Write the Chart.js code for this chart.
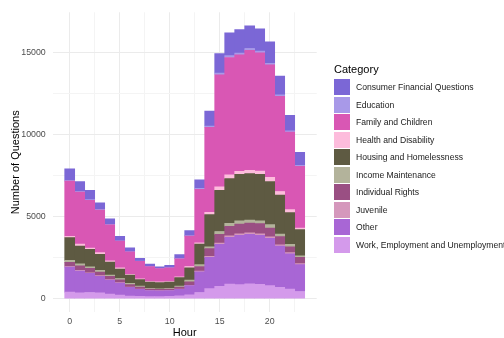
<!DOCTYPE html>
<html>
<head>
<meta charset="utf-8">
<script src="https://cdn.jsdelivr.net/npm/chart.js@4.4.1/dist/chart.umd.min.js"></script>
<style>
  html, body { margin: 0; padding: 0; background: #fff; }
  #wrap { position: relative; width: 504px; height: 338px; font-family: "Liberation Sans", Arial, sans-serif; }
  #chart { position: absolute; left: 0; top: 0; }
  #legend { position: absolute; left: 334px; top: 61px; }
  #legend .title { height: 17.5px; line-height: 16px; font-size: 11px; color: #000; }
  #legend .item { height: 17.5px; display: flex; align-items: center; font-size: 8.6px; color: #1a1a1a; white-space: nowrap; }
  #legend .sw { width: 16px; height: 16px; margin-right: 6px; flex: none; }
</style>
</head>
<body>
<div id="wrap">
  <canvas id="chart" width="504" height="338"></canvas>
  <div id="legend"></div>
</div>
<script>
/* =========================
   Data
========================= */

const hours = [0,1,2,3,4,5,6,7,8,9,10,11,12,13,14,15,16,17,18,19,20,21,22,23];

const categories = [
  "Consumer Financial Questions",
  "Education",
  "Family and Children",
  "Health and Disability",
  "Housing and Homelessness",
  "Income Maintenance",
  "Individual Rights",
  "Juvenile",
  "Other",
  "Work, Employment and Unemployment"
];

const consumerFinancial = [710,610,575,405,340,265,235,165,145,85,140,240,310,520,910,1190,1390,1430,1375,1350,1300,1140,940,790];
const education         = [40,40,35,35,30,25,20,15,15,15,15,20,30,50,80,100,110,110,110,110,100,90,80,60];
const familyChildren    = [3355,3160,2910,2585,2180,1625,1365,1065,905,810,830,1105,1855,3260,5175,6830,7150,7095,7310,7195,6840,5790,4725,3770];
const healthDisability  = [80,120,80,105,80,75,40,40,40,40,40,40,75,80,135,200,220,175,195,195,260,220,175,80];
const housingHomeless   = [1385,1085,1060,980,790,575,510,395,380,380,380,515,755,1245,1960,2510,2725,2830,2830,2830,2625,2370,1940,1600];
const incomeMaintenance = [120,115,100,100,75,80,80,60,35,35,35,60,95,120,115,180,180,195,175,175,215,155,140,100];
const individualRights  = [255,280,265,220,210,170,140,120,80,80,80,120,215,275,475,530,580,600,605,620,525,495,360,380];
const juvenile          = [40,40,35,35,30,25,20,15,15,15,15,15,25,40,60,80,90,90,90,90,90,80,70,55];
const other             = [1520,1325,1165,1010,850,735,530,435,375,355,355,395,555,1265,1900,2550,2845,3005,3000,2985,2885,2510,2140,1640];
const workEmployment    = [395,355,375,355,275,215,160,140,120,120,140,180,235,375,610,750,890,850,910,870,790,690,590,435];

// grid positions; labelled ones are the majors
const xGrid   = [0,2.5,5,7.5,10,12.5,15,17.5,20,22.5];
const xLabels = [0,5,10,15,20];
const yGrid   = [0,2500,5000,7500,10000,12500,15000];
const yLabels = [0,5000,10000,15000];

const series = [
  consumerFinancial, education, familyChildren, healthDisability, housingHomeless,
  incomeMaintenance, individualRights, juvenile, other, workEmployment
];

const colors = [
  "#7B67D6", "#A899E8", "#D957B4", "#FDBCDC", "#5E5A42",
  "#B3B39B", "#9A4F83", "#D598BC", "#A866D5", "#D49AEB"
];

/* =========================
   Helpers
========================= */

const FONT = "'Liberation Sans', Arial, sans-serif";

function totals() {
  return hours.map((_, i) => series.reduce((s, arr) => s + arr[i], 0));
}

function gridColor(ctx, majors) {
  const v = ctx.tick ? ctx.tick.value : null;
  return majors.includes(v) ? "#EBEBEB" : "#F4F4F4";
}

function buildLegend() {
  const box = document.getElementById("legend");
  let html = '<div class="title">Category</div>';
  categories.forEach((name, i) => {
    html += `<div class="item"><span class="sw" style="background:${colors[i]}"></span>${name}</div>`;
  });
  box.innerHTML = html;
}

/* =========================
   Chart
========================= */

const maxTotal = Math.max(...totals());
const yMin = -0.05 * maxTotal;
const yMax = maxTotal * 1.05;
const xSpan = (hours[hours.length - 1] + 0.5) - (hours[0] - 0.5);
const xMin = hours[0] - 0.5 - 0.05 * xSpan;
const xMax = hours[hours.length - 1] + 0.5 + 0.05 * xSpan;

// bottom layer first: reverse of the legend order
const datasets = categories.map((name, i) => ({
  label: name,
  data: hours.map((h, j) => ({ x: h, y: series[i][j] })),
  backgroundColor: colors[i],
  borderWidth: 0,
  barPercentage: 1,
  categoryPercentage: 1
})).reverse();

new Chart(document.getElementById("chart"), {
  type: "bar",
  data: { datasets },
  options: {
    responsive: false,
    animation: false,
    layout: { padding: { left: 0, top: 4.3, right: 187.3, bottom: 0 } },
    plugins: { legend: { display: false }, tooltip: { enabled: false } },
    scales: {
      x: {
        type: "linear",
        stacked: true,
        offset: false,
        min: xMin,
        max: xMax,
        afterBuildTicks: (s) => { s.ticks = xGrid.map((v) => ({ value: v })); },
        afterFit: (s) => { s.height = 25.7; },
        border: { display: false },
        grid: { offset: false, drawTicks: false, color: (c) => gridColor(c, xLabels), lineWidth: 1 },
        ticks: {
          padding: 4,
          color: "#4D4D4D",
          font: { family: FONT, size: 8.8 },
          maxRotation: 0,
          autoSkip: false,
          callback: (v) => (xLabels.includes(v) ? String(v) : "")
        },
        title: {
          display: true,
          text: "Hour",
          color: "#000",
          font: { family: FONT, size: 11, lineHeight: 1 },
          padding: { top: 0, bottom: 0 }
        }
      },
      y: {
        stacked: true,
        min: yMin,
        max: yMax,
        afterBuildTicks: (s) => { s.ticks = yGrid.map((v) => ({ value: v })); },
        afterFit: (s) => { s.width = 52.7; },
        border: { display: false },
        grid: { drawTicks: false, color: (c) => gridColor(c, yLabels), lineWidth: 1 },
        ticks: {
          padding: 7,
          color: "#4D4D4D",
          font: { family: FONT, size: 8.8 },
          autoSkip: false,
          callback: (v) => (yLabels.includes(v) ? String(v) : "")
        },
        title: {
          display: true,
          text: "Number of Questions",
          color: "#000",
          font: { family: FONT, size: 11, lineHeight: 1 },
          padding: { top: 10.5, bottom: 0 }
        }
      }
    }
  }
});

buildLegend();
</script>
</body>
</html>
